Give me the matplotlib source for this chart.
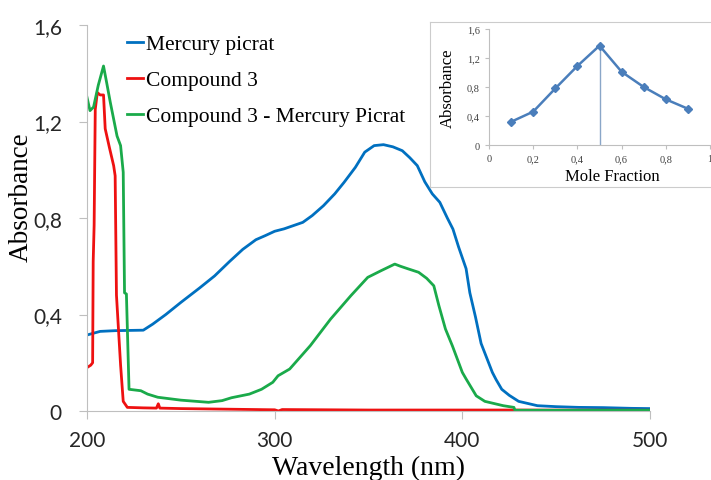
import matplotlib
matplotlib.use("Agg")
from matplotlib import pyplot as plt
from matplotlib.ticker import FuncFormatter

# main spectra (wavelength nm, absorbance)
wl_mercury = [200, 207, 215, 230, 235, 242, 250, 260, 268, 276, 283, 290, 295, 300, 305, 315, 320,
              326, 332, 337, 343, 348, 353, 358, 363, 368, 372, 376, 380, 384, 388, 392, 395, 398,
              402, 404, 407, 410, 413, 416, 418, 421, 425, 430, 440, 450, 462, 475, 490, 500]
abs_mercury = [0.315, 0.33, 0.333, 0.335, 0.36, 0.40, 0.45, 0.51, 0.56, 0.62, 0.67, 0.71, 0.727, 0.745,
               0.755, 0.782, 0.81, 0.851, 0.90, 0.948, 1.01, 1.073, 1.10, 1.104, 1.095, 1.079, 1.05,
               1.017, 0.95, 0.90, 0.865, 0.80, 0.754, 0.68, 0.59, 0.49, 0.39, 0.28, 0.22, 0.16, 0.13,
               0.09, 0.065, 0.04, 0.022, 0.018, 0.015, 0.014, 0.011, 0.01]

wl_comp3 = [200, 202, 203, 203.3, 203.8, 204.4, 205.5, 207, 208.8, 209.7, 212, 214.2, 215, 215.7,
            217.9, 219.3, 221.5, 230, 237, 238, 238.8, 250, 270, 300, 302, 304, 350, 400, 424, 500]
abs_comp3 = [0.18, 0.19, 0.2, 0.62, 0.77, 1.25, 1.32, 1.31, 1.31, 1.17, 1.09, 1.017, 0.975, 0.48,
             0.19, 0.04, 0.015, 0.013, 0.012, 0.03, 0.012, 0.01, 0.008, 0.005, 0.0, 0.006, 0.004,
             0.004, 0.004, 0.003]

wl_complex = [200, 201.6, 203.5, 206, 208.8, 210.5, 212.4, 216, 217.9, 219.3, 220, 221, 222.4, 228.7,
              232.3, 237.7, 250, 264.8, 272, 277, 286.5, 293, 299, 301.8, 308, 319, 329.8, 340.6,
              349.6, 356.8, 364, 367, 371.2, 376.7, 381, 384.8, 387.5, 391, 394.7, 400, 402, 407.4,
              412, 421.8, 427.5, 428, 500]
abs_complex = [1.30, 1.245, 1.26, 1.35, 1.43, 1.36, 1.28, 1.14, 1.10, 0.99, 0.49, 0.485, 0.09, 0.084,
               0.07, 0.057, 0.045, 0.036, 0.043, 0.055, 0.07, 0.09, 0.119, 0.146, 0.174, 0.271, 0.381,
               0.478, 0.554, 0.582, 0.609, 0.60, 0.589, 0.575, 0.55, 0.519, 0.437, 0.34, 0.27, 0.16,
               0.133, 0.063, 0.04, 0.022, 0.015, 0.003, 0.003]

# Job's plot inset
mole_fraction = [0.1, 0.2, 0.3, 0.4, 0.5, 0.6, 0.7, 0.8, 0.9]
job_abs = [0.32, 0.46, 0.78, 1.09, 1.37, 1.01, 0.80, 0.63, 0.50]

comma = FuncFormatter(lambda v, p: ("%g" % round(v, 2)).replace(".", ","))
serif = "Liberation Serif"
grey = "#bfbfbf"

fig = plt.figure(figsize=(7.11, 4.81), dpi=100)
ax = fig.add_axes([87 / 711, 1 - 412 / 481, 563 / 711, 386 / 481])

ax.plot(wl_mercury, abs_mercury, color="#0070C0", lw=2.0, label="Mercury picrat")
ax.plot(wl_comp3, abs_comp3, color="#EE1111", lw=2.0, label="Compound 3")
ax.plot(wl_complex, abs_complex, color="#1AAA4A", lw=2.0, label="Compound 3 - Mercury Picrat")

ax.set_xlim(200, 500)
ax.set_ylim(0, 1.6)
ax.set_xticks([200, 300, 400, 500])
ax.set_yticks([0, 0.4, 0.8, 1.2, 1.6])
ax.yaxis.set_major_formatter(comma)
for s in ["top", "right"]:
    ax.spines[s].set_visible(False)
for s in ["left", "bottom"]:
    ax.spines[s].set_color(grey)
ax.tick_params(colors=grey, labelcolor="#262626", labelsize=15, length=6)
ax.tick_params(axis="y", pad=12)
ax.tick_params(axis="x", pad=8)
for lab in ax.get_xticklabels() + ax.get_yticklabels():
    lab.set_family("Lato")
ax.set_xlabel("Wavelength (nm)", family=serif, fontsize=20)
ax.xaxis.set_label_coords(0.5, -0.113)
ax.set_ylabel("Absorbance", family=serif, fontsize=19.5)
ax.yaxis.set_label_coords(-0.094, 0.557)

leg = ax.legend(loc="upper left", bbox_to_anchor=(0.055, 0.998), frameon=False,
                prop={"family": serif, "size": 15.5}, handlelength=0.75, handletextpad=0.15,
                labelspacing=0.74, borderaxespad=0)

# inset frame
frame = fig.add_axes([430 / 711, 1 - 188 / 481, 290 / 711, 165 / 481])
frame.set_xticks([])
frame.set_yticks([])
frame.patch.set_alpha(0)
for s in frame.spines.values():
    s.set_color("#cccccc")

ins = fig.add_axes([489 / 711, 1 - 146 / 481, 221 / 711, 116 / 481])
ins.patch.set_alpha(0)
ins.vlines(0.5, 0, 1.37, color="#8aa6c8", lw=1.0)
ins.plot(mole_fraction, job_abs, color="#4A7EBB", lw=1.8, marker="D", ms=4.5)
ins.set_xlim(0, 1)
ins.set_ylim(0, 1.6)
ins.set_xticks([0, 0.2, 0.4, 0.6, 0.8, 1])
ins.set_yticks([0, 0.4, 0.8, 1.2, 1.6])
ins.xaxis.set_major_formatter(comma)
ins.yaxis.set_major_formatter(comma)
for s in ["top", "right"]:
    ins.spines[s].set_visible(False)
for s in ["left", "bottom"]:
    ins.spines[s].set_color(grey)
ins.tick_params(colors=grey, labelcolor="#404040", labelsize=7.5, length=3)
for lab in ins.get_xticklabels() + ins.get_yticklabels():
    lab.set_family(serif)
ins.set_xlabel("Mole Fraction", family=serif, fontsize=12)
ins.xaxis.set_label_coords(0.557, -0.2)
ins.set_ylabel("Absorbance", family=serif, fontsize=12)
ins.yaxis.set_label_coords(-0.15, 0.5)

fig.savefig("out.png", dpi=100)
